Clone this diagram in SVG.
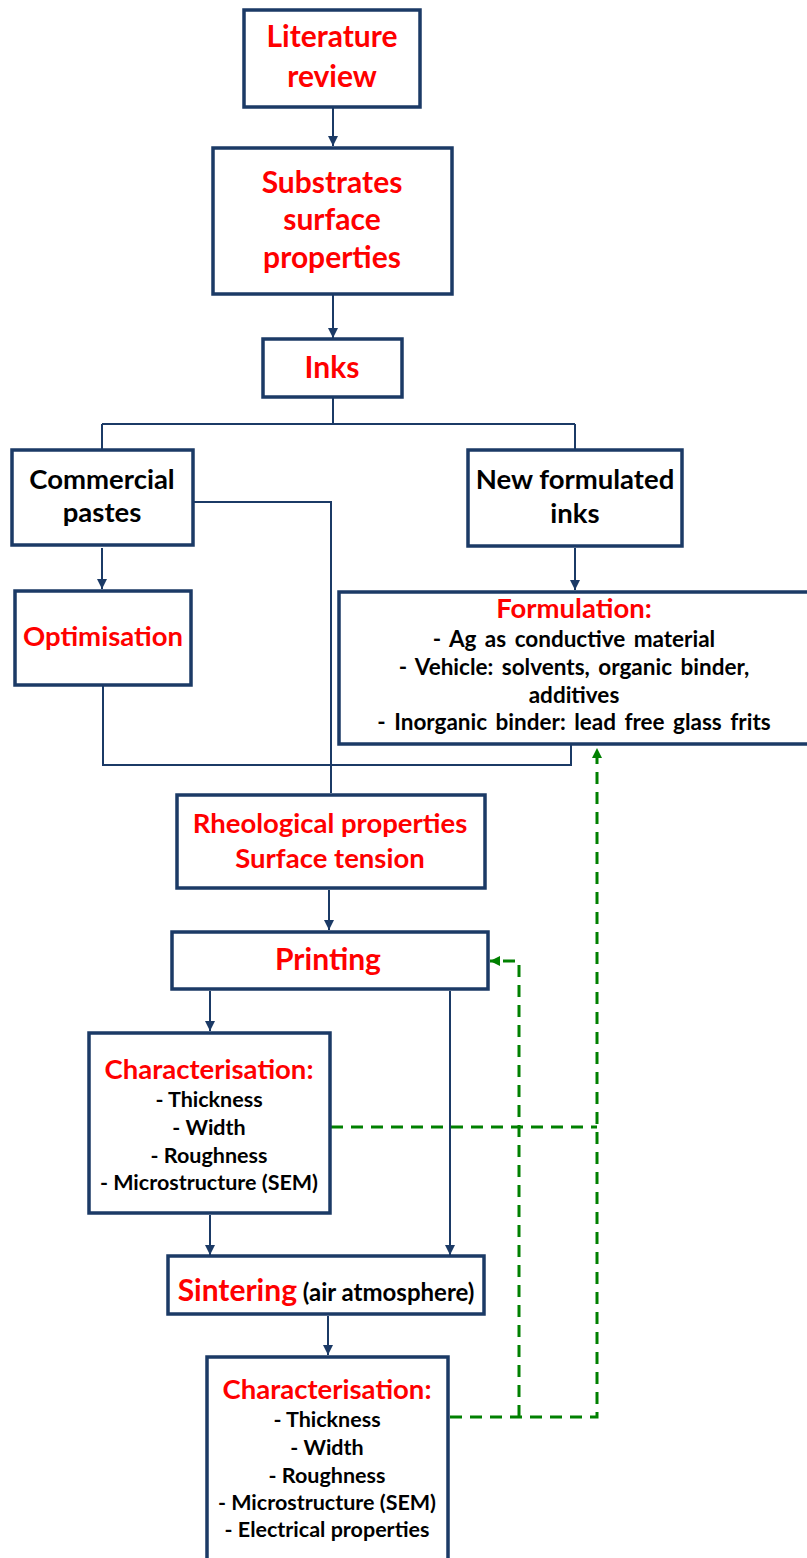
<svg xmlns="http://www.w3.org/2000/svg" width="807" height="1558" viewBox="0 0 807 1558">
  <style>
    .box { fill: #ffffff; stroke: #1b3a66; stroke-width: 3.5; }
    .t { font-family: Lato, "Liberation Sans", sans-serif; font-weight: bold; text-anchor: middle; }
    .red { fill: #ff0000; }
    .blk { fill: #000000; }
    .h1 { font-size: 30px; }
    .h2 { font-size: 27.5px; }
    .li { font-size: 21.5px; }
    .lf { font-size: 22.5px; word-spacing: 3px; }
    .link { fill: none; stroke: #1b3a66; stroke-width: 2; }
    .fb { fill: none; stroke: #008000; stroke-width: 3; stroke-dasharray: 12 8; }
  </style>
  <defs>
    <marker id="arrowNavy" markerUnits="userSpaceOnUse" markerWidth="10" markerHeight="10" refX="10" refY="5" orient="auto">
      <path d="M0,0 L10,5 L0,10 Z" fill="#1b3a66"/>
    </marker>
    <marker id="arrowGreen" markerUnits="userSpaceOnUse" markerWidth="10" markerHeight="10" refX="10" refY="5" orient="auto">
      <path d="M0,0 L10,5 L0,10 Z" fill="#008000"/>
    </marker>
  </defs>

  <rect width="807" height="1558" fill="#ffffff"/>

  <!-- connectors -->
  <g id="connectors">
    <path class="link" d="M333 108 V146" marker-end="url(#arrowNavy)"/>
    <path class="link" d="M333 295 V338" marker-end="url(#arrowNavy)"/>
    <path class="link" d="M333 398 V424 M102 424 H575 M102 424 V449 M575 424 V449"/>
    <path class="link" d="M193 502 H331 V793"/>
    <path class="link" d="M102 548 V589" marker-end="url(#arrowNavy)"/>
    <path class="link" d="M575 548 V590" marker-end="url(#arrowNavy)"/>
    <path class="link" d="M103 686 V765 H571 V745"/>
    <path class="link" d="M329 890 V930" marker-end="url(#arrowNavy)"/>
    <path class="link" d="M210 991 V1031" marker-end="url(#arrowNavy)"/>
    <path class="link" d="M450 991 V1255" marker-end="url(#arrowNavy)"/>
    <path class="link" d="M210 1215 V1255" marker-end="url(#arrowNavy)"/>
    <path class="link" d="M328 1316 V1355" marker-end="url(#arrowNavy)"/>

    <!-- feedback loops -->
    <path class="fb" d="M331 1127 H597"/>
    <path class="fb" d="M450 1417 H597 V748" marker-end="url(#arrowGreen)"/>
    <path class="fb" d="M519 1417 V961 H490" marker-end="url(#arrowGreen)"/>
  </g>

  <g id="literature">
    <rect class="box" x="244" y="10" width="176" height="97"/>
    <text class="t red h1" x="332" y="47">Literature</text>
    <text class="t red h1" x="332" y="87">review</text>
  </g>

  <g id="substrates">
    <rect class="box" x="213" y="148" width="239" height="146"/>
    <text class="t red h1" x="332" y="193">Substrates</text>
    <text class="t red h1" x="332" y="230">surface</text>
    <text class="t red h1" x="332" y="268">properties</text>
  </g>

  <g id="inks">
    <rect class="box" x="263" y="339" width="139" height="58"/>
    <text class="t red h1" x="332" y="378">Inks</text>
  </g>

  <g id="commercial">
    <rect class="box" x="12" y="450" width="181" height="95"/>
    <text class="t blk h2" x="102" y="489">Commercial</text>
    <text class="t blk h2" x="102" y="522">pastes</text>
  </g>

  <g id="newinks">
    <rect class="box" x="468" y="450" width="214" height="96"/>
    <text class="t blk h2" x="575" y="489">New formulated</text>
    <text class="t blk h2" x="575" y="523">inks</text>
  </g>

  <g id="optimisation">
    <rect class="box" x="15" y="591" width="176" height="94"/>
    <text class="t red h2" x="103" y="646">Optimisation</text>
  </g>

  <g id="formulation">
    <rect class="box" x="339" y="592" width="472" height="152"/>
    <text class="t red h2" x="574" y="618">Formulation:</text>
    <text class="t blk lf" x="574" y="647">- Ag as conductive material</text>
    <text class="t blk lf" x="574" y="675">- Vehicle: solvents, organic binder,</text>
    <text class="t blk lf" x="574" y="703">additives</text>
    <text class="t blk lf" x="574" y="730">- Inorganic binder: lead free glass frits</text>
  </g>

  <g id="rheology">
    <rect class="box" x="177" y="795" width="308" height="93"/>
    <text class="t red h2" x="330" y="833">Rheological properties</text>
    <text class="t red h2" x="330" y="868">Surface tension</text>
  </g>

  <g id="printing">
    <rect class="box" x="172" y="932" width="316" height="57"/>
    <text class="t red h1" x="328" y="970">Printing</text>
  </g>

  <g id="characterisation1">
    <rect class="box" x="89" y="1033" width="241" height="180"/>
    <text class="t red h2" x="209" y="1079">Characterisation:</text>
    <text class="t blk li" x="209" y="1107">- Thickness</text>
    <text class="t blk li" x="209" y="1135">- Width</text>
    <text class="t blk li" x="209" y="1163">- Roughness</text>
    <text class="t blk li" x="209" y="1190">- Microstructure (SEM)</text>
  </g>

  <g id="sintering">
    <rect class="box" x="168" y="1256" width="316" height="58"/>
    <text class="t" x="326" y="1301"><tspan class="red h1">Sintering</tspan><tspan class="blk" font-size="24px"> (air atmosphere)</tspan></text>
  </g>

  <g id="characterisation2">
    <rect class="box" x="207" y="1357" width="241" height="220"/>
    <text class="t red h2" x="327" y="1399">Characterisation:</text>
    <text class="t blk li" x="327" y="1427">- Thickness</text>
    <text class="t blk li" x="327" y="1455">- Width</text>
    <text class="t blk li" x="327" y="1483">- Roughness</text>
    <text class="t blk li" x="327" y="1510">- Microstructure (SEM)</text>
    <text class="t blk li" x="327" y="1537">- Electrical properties</text>
  </g>
</svg>
